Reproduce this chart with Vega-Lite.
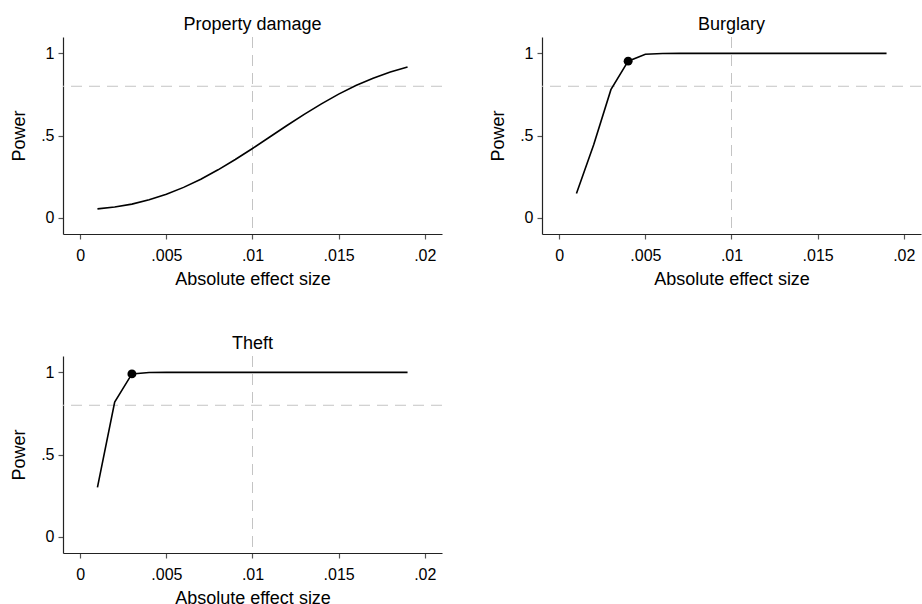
{
  "$schema": "https://vega.github.io/schema/vega-lite/v6.json",
  "background": "white",
  "padding": {"left": 10, "top": 15, "right": 0, "bottom": 0},
  "datasets": {
    "curves": [
      {"crime": "Property damage", "effect": 0.001, "power": 0.053},
      {"crime": "Property damage", "effect": 0.002, "power": 0.064},
      {"crime": "Property damage", "effect": 0.003, "power": 0.082},
      {"crime": "Property damage", "effect": 0.004, "power": 0.108},
      {"crime": "Property damage", "effect": 0.005, "power": 0.142},
      {"crime": "Property damage", "effect": 0.006, "power": 0.184},
      {"crime": "Property damage", "effect": 0.007, "power": 0.234},
      {"crime": "Property damage", "effect": 0.008, "power": 0.291},
      {"crime": "Property damage", "effect": 0.009, "power": 0.354},
      {"crime": "Property damage", "effect": 0.010, "power": 0.421},
      {"crime": "Property damage", "effect": 0.011, "power": 0.491},
      {"crime": "Property damage", "effect": 0.012, "power": 0.561},
      {"crime": "Property damage", "effect": 0.013, "power": 0.629},
      {"crime": "Property damage", "effect": 0.014, "power": 0.693},
      {"crime": "Property damage", "effect": 0.015, "power": 0.752},
      {"crime": "Property damage", "effect": 0.016, "power": 0.804},
      {"crime": "Property damage", "effect": 0.017, "power": 0.849},
      {"crime": "Property damage", "effect": 0.018, "power": 0.887},
      {"crime": "Property damage", "effect": 0.019, "power": 0.917},
      {"crime": "Burglary", "effect": 0.001, "power": 0.147},
      {"crime": "Burglary", "effect": 0.002, "power": 0.444},
      {"crime": "Burglary", "effect": 0.003, "power": 0.779},
      {"crime": "Burglary", "effect": 0.004, "power": 0.953},
      {"crime": "Burglary", "effect": 0.005, "power": 0.995},
      {"crime": "Burglary", "effect": 0.006, "power": 0.9998},
      {"crime": "Burglary", "effect": 0.007, "power": 1.0},
      {"crime": "Burglary", "effect": 0.008, "power": 1.0},
      {"crime": "Burglary", "effect": 0.009, "power": 1.0},
      {"crime": "Burglary", "effect": 0.010, "power": 1.0},
      {"crime": "Burglary", "effect": 0.011, "power": 1.0},
      {"crime": "Burglary", "effect": 0.012, "power": 1.0},
      {"crime": "Burglary", "effect": 0.013, "power": 1.0},
      {"crime": "Burglary", "effect": 0.014, "power": 1.0},
      {"crime": "Burglary", "effect": 0.015, "power": 1.0},
      {"crime": "Burglary", "effect": 0.016, "power": 1.0},
      {"crime": "Burglary", "effect": 0.017, "power": 1.0},
      {"crime": "Burglary", "effect": 0.018, "power": 1.0},
      {"crime": "Burglary", "effect": 0.019, "power": 1.0},
      {"crime": "Theft", "effect": 0.001, "power": 0.300},
      {"crime": "Theft", "effect": 0.002, "power": 0.819},
      {"crime": "Theft", "effect": 0.003, "power": 0.991},
      {"crime": "Theft", "effect": 0.004, "power": 0.9999},
      {"crime": "Theft", "effect": 0.005, "power": 1.0},
      {"crime": "Theft", "effect": 0.006, "power": 1.0},
      {"crime": "Theft", "effect": 0.007, "power": 1.0},
      {"crime": "Theft", "effect": 0.008, "power": 1.0},
      {"crime": "Theft", "effect": 0.009, "power": 1.0},
      {"crime": "Theft", "effect": 0.010, "power": 1.0},
      {"crime": "Theft", "effect": 0.011, "power": 1.0},
      {"crime": "Theft", "effect": 0.012, "power": 1.0},
      {"crime": "Theft", "effect": 0.013, "power": 1.0},
      {"crime": "Theft", "effect": 0.014, "power": 1.0},
      {"crime": "Theft", "effect": 0.015, "power": 1.0},
      {"crime": "Theft", "effect": 0.016, "power": 1.0},
      {"crime": "Theft", "effect": 0.017, "power": 1.0},
      {"crime": "Theft", "effect": 0.018, "power": 1.0},
      {"crime": "Theft", "effect": 0.019, "power": 1.0}
    ],
    "chosen": [
      {"crime": "Burglary", "effect": 0.004, "power": 0.953},
      {"crime": "Theft", "effect": 0.003, "power": 0.991}
    ],
    "ref": [
      {"target_power": 0.8, "benchmark_effect": 0.01}
    ]
  },
  "columns": 2,
  "spacing": {"column": 46, "row": 46},
  "concat": [
    {
      "width": 379, "height": 197,
      "title": "Property damage",
      "layer": [
        {"data": {"name": "ref"}, "mark": {"type": "rule", "color": "#c4c4c4", "strokeDash": [11, 7], "strokeWidth": 1}, "encoding": {"y": {"field": "target_power", "type": "quantitative", "scale": {"domain": [-0.1, 1.1], "nice": false, "zero": false}}}},
        {"data": {"name": "ref"}, "mark": {"type": "rule", "color": "#c4c4c4", "strokeDash": [11, 7], "strokeWidth": 1}, "encoding": {"x": {"field": "benchmark_effect", "type": "quantitative", "scale": {"domain": [-0.001, 0.021], "nice": false, "zero": false}}}},
        {"data": {"name": "curves"}, "transform": [{"filter": "datum.crime === 'Property damage'"}],
         "mark": {"type": "line", "color": "black", "strokeWidth": 1.6},
         "encoding": {
           "x": {"field": "effect", "type": "quantitative", "title": "Absolute effect size", "scale": {"domain": [-0.001, 0.021], "nice": false, "zero": false}, "axis": {"values": [0, 0.005, 0.01, 0.015, 0.02]}},
           "y": {"field": "power", "type": "quantitative", "title": "Power", "scale": {"domain": [-0.1, 1.1], "nice": false, "zero": false}, "axis": {"values": [0, 0.5, 1]}}
         }}
      ]
    },
    {
      "width": 379, "height": 197,
      "title": "Burglary",
      "layer": [
        {"data": {"name": "ref"}, "mark": {"type": "rule", "color": "#c4c4c4", "strokeDash": [11, 7], "strokeWidth": 1}, "encoding": {"y": {"field": "target_power", "type": "quantitative", "scale": {"domain": [-0.1, 1.1], "nice": false, "zero": false}}}},
        {"data": {"name": "ref"}, "mark": {"type": "rule", "color": "#c4c4c4", "strokeDash": [11, 7], "strokeWidth": 1}, "encoding": {"x": {"field": "benchmark_effect", "type": "quantitative", "scale": {"domain": [-0.001, 0.021], "nice": false, "zero": false}}}},
        {"data": {"name": "curves"}, "transform": [{"filter": "datum.crime === 'Burglary'"}],
         "mark": {"type": "line", "color": "black", "strokeWidth": 1.6},
         "encoding": {
           "x": {"field": "effect", "type": "quantitative", "title": "Absolute effect size", "scale": {"domain": [-0.001, 0.021], "nice": false, "zero": false}, "axis": {"values": [0, 0.005, 0.01, 0.015, 0.02]}},
           "y": {"field": "power", "type": "quantitative", "title": "Power", "scale": {"domain": [-0.1, 1.1], "nice": false, "zero": false}, "axis": {"values": [0, 0.5, 1]}}
         }},
        {"data": {"name": "chosen"}, "transform": [{"filter": "datum.crime === 'Burglary'"}],
         "mark": {"type": "point", "filled": true, "color": "black", "opacity": 1, "size": 80},
         "encoding": {
           "x": {"field": "effect", "type": "quantitative"},
           "y": {"field": "power", "type": "quantitative"}
         }}
      ]
    },
    {
      "width": 379, "height": 197,
      "title": "Theft",
      "layer": [
        {"data": {"name": "ref"}, "mark": {"type": "rule", "color": "#c4c4c4", "strokeDash": [11, 7], "strokeWidth": 1}, "encoding": {"y": {"field": "target_power", "type": "quantitative", "scale": {"domain": [-0.1, 1.1], "nice": false, "zero": false}}}},
        {"data": {"name": "ref"}, "mark": {"type": "rule", "color": "#c4c4c4", "strokeDash": [11, 7], "strokeWidth": 1}, "encoding": {"x": {"field": "benchmark_effect", "type": "quantitative", "scale": {"domain": [-0.001, 0.021], "nice": false, "zero": false}}}},
        {"data": {"name": "curves"}, "transform": [{"filter": "datum.crime === 'Theft'"}],
         "mark": {"type": "line", "color": "black", "strokeWidth": 1.6},
         "encoding": {
           "x": {"field": "effect", "type": "quantitative", "title": "Absolute effect size", "scale": {"domain": [-0.001, 0.021], "nice": false, "zero": false}, "axis": {"values": [0, 0.005, 0.01, 0.015, 0.02]}},
           "y": {"field": "power", "type": "quantitative", "title": "Power", "scale": {"domain": [-0.1, 1.1], "nice": false, "zero": false}, "axis": {"values": [0, 0.5, 1]}}
         }},
        {"data": {"name": "chosen"}, "transform": [{"filter": "datum.crime === 'Theft'"}],
         "mark": {"type": "point", "filled": true, "color": "black", "opacity": 1, "size": 80},
         "encoding": {
           "x": {"field": "effect", "type": "quantitative"},
           "y": {"field": "power", "type": "quantitative"}
         }}
      ]
    }
  ],
  "config": {
    "font": "Liberation Sans",
    "view": {"stroke": null},
    "title": {"font": "Liberation Sans", "fontSize": 18, "fontWeight": "normal", "color": "black", "offset": 3},
    "axis": {
      "grid": false,
      "domainColor": "#222",
      "domainWidth": 1.2,
      "tickColor": "#555",
      "tickSize": 5,
      "tickWidth": 1.2,
      "labelFont": "Liberation Sans",
      "labelFontSize": 16,
      "labelColor": "black",
      "titleFont": "Liberation Sans",
      "titleFontSize": 18,
      "titleFontWeight": "normal",
      "titleColor": "black",
      "labelFlush": false,
      "labelOverlap": false,
      "labelExpr": "datum.value === 0 ? '0' : replace(format(datum.value, '~g'), '0.', '.')"
    },
    "axisX": {"labelPadding": 8, "titlePadding": 7},
    "axisY": {"labelPadding": 4, "titlePadding": 12}
  }
}
